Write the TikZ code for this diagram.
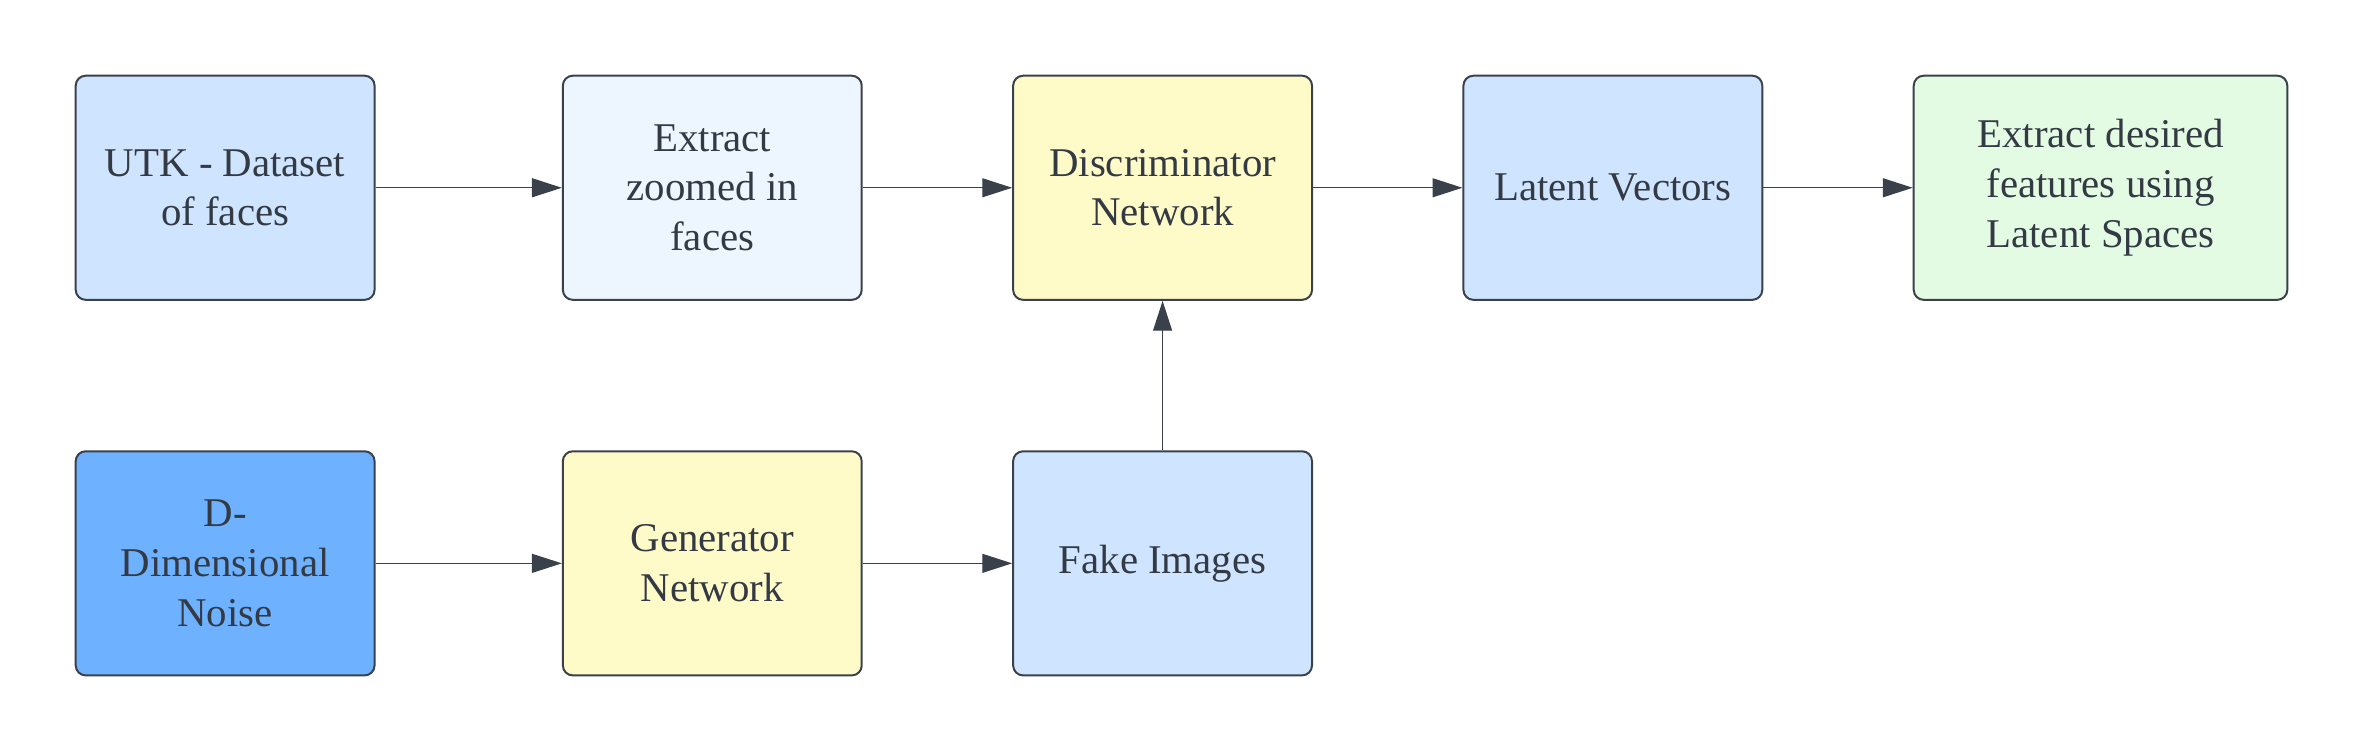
\documentclass[tikz,border=0pt]{standalone}
\usepackage{fontspec}
\setmainfont{Liberation Serif}
\usetikzlibrary{arrows.meta,positioning}
\definecolor{edge}{HTML}{3A414A}
\definecolor{ink}{HTML}{333A44}
\definecolor{skyfill}{HTML}{CFE4FF}
\definecolor{palefill}{HTML}{EDF5FF}
\definecolor{lemonfill}{HTML}{FFFBC9}
\definecolor{mintfill}{HTML}{E3FAE3}
\definecolor{bluefill}{HTML}{6DB1FF}
\tikzset{
  block/.style={rectangle, rounded corners=3pt, draw=edge, line width=0.6pt, text=ink,
                align=center, minimum width=90pt, minimum height=67.5pt, inner sep=0pt,
                font=\fontsize{12.3pt}{15pt}\selectfont},
  flow/.style={-{Triangle[length=9pt, width=5.7pt]}, line width=0.4pt, draw=edge},
}
\begin{document}
\begin{tikzpicture}

% Top row
\node[block, fill=skyfill] (utk) {UTK - Dataset\\of faces};
\node[block, fill=palefill, right=56.1pt of utk] (crop) {Extract\\zoomed in\\faces};
\node[block, fill=lemonfill, right=45pt of crop] (disc) {Discriminator\\Network};
\node[block, fill=skyfill, right=45pt of disc] (latent) {Latent Vectors};
\node[block, fill=mintfill, minimum width=112.5pt, right=45pt of latent] (feat) {Extract desired\\features using\\Latent Spaces};

% Bottom row
\node[block, fill=bluefill, below=45pt of utk] (noise) {D-\\Dimensional\\Noise};
\node[block, fill=lemonfill, below=45pt of crop] (gen) {Generator\\Network};
\node[block, fill=skyfill, below=45pt of disc] (fake) {Fake Images};

% Arrows
\draw[flow] (utk) -- (crop);
\draw[flow] (crop) -- (disc);
\draw[flow] (disc) -- (latent);
\draw[flow] (latent) -- (feat);
\draw[flow] (noise) -- (gen);
\draw[flow] (gen) -- (fake);
\draw[flow] (fake) -- (disc);

\useasboundingbox ([shift={(-22.5pt,-22.5pt)}]noise.south west) rectangle ([shift={(22.5pt,22.5pt)}]feat.north east);
\end{tikzpicture}
\end{document}
